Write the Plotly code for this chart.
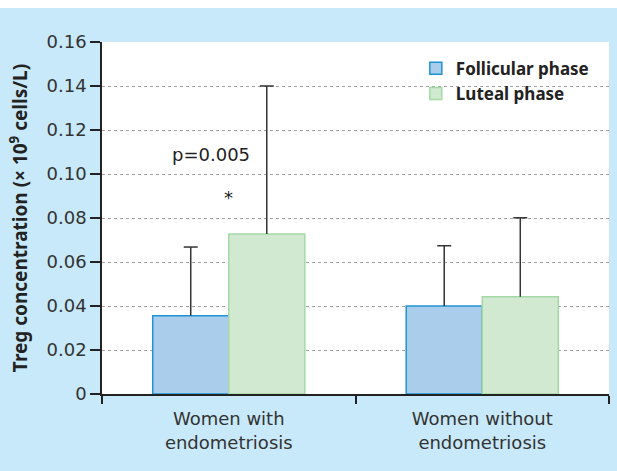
import plotly.graph_objects as go

categories = ["Women with<br>endometriosis", "Women without<br>endometriosis"]
follicular = [0.0356, 0.0400]
follicular_err = [0.0312, 0.0274]
luteal = [0.0727, 0.0442]
luteal_err = [0.0673, 0.0359]
yticks = [0, 0.02, 0.04, 0.06, 0.08, 0.10, 0.12, 0.14, 0.16]
yticklabels = ["0", "0.02", "0.04", "0.06", "0.08", "0.10", "0.12", "0.14", "0.16"]

FONT = "DejaVu Sans"
BOLD = "Noto Sans"
ERR = "#333333"
fig = go.Figure()
series = [
    ("Follicular phase", follicular, follicular_err, "#abcdec", "#1f93d3", "f"),
    ("Luteal phase", luteal, luteal_err, "#d1e9d1", "#a3d9a5", "l"),
]
for name, vals, errs, fill, edge, grp in series:
    fig.add_trace(go.Bar(
        name=name, x=categories, y=vals, offsetgroup=grp,
        marker=dict(color=fill, line=dict(color=edge, width=1.5)),
        error_y=dict(type="data", array=errs, arrayminus=[0] * len(errs), symmetric=False,
                     color=ERR, thickness=1.5, width=0),
    ))
for name, vals, errs, fill, edge, grp in series:
    fig.add_trace(go.Scatter(
        x=categories, y=[v + e for v, e in zip(vals, errs)], offsetgroup=grp,
        mode="markers", showlegend=False, hoverinfo="skip",
        marker=dict(symbol="line-ew", size=10, line=dict(color=ERR, width=1.5)),
    ))

fig.add_annotation(x=0, xshift=-18, y=0.109, text="p=0.005", showarrow=False,
                   font=dict(family=FONT, size=18, color="#222222"))
fig.add_annotation(x=0, y=0.0895, text="*", showarrow=False,
                   font=dict(family=FONT, size=18, color="#222222"))

fig.update_layout(
    width=617, height=463,
    margin=dict(l=102, r=8, t=34, b=77),
    paper_bgcolor="#c8e9f9", plot_bgcolor="white",
    barmode="group", bargap=0.4, bargroupgap=0,
    scattermode="group", scattergap=0.4,
    font=dict(family=FONT, color="#333333"),
    legend=dict(x=0.619, y=0.975, xanchor="left", yanchor="top", bgcolor="rgba(0,0,0,0)",
                font=dict(family=BOLD, size=17, color="#222222", weight="bold"),
                itemwidth=30, tracegroupgap=0),
    showlegend=True,
)
fig.update_xaxes(showline=True, linecolor="#222222", linewidth=1.5,
                 ticks="outside", tickson="boundaries", ticklen=8, tickcolor="#222222", tickwidth=1.5,
                 ticklabelstandoff=8,
                 tickfont=dict(family=FONT, size=18, color="#333333"), showgrid=False)
fig.update_yaxes(range=[0, 0.16], tickvals=yticks, ticktext=yticklabels,
                 showline=True, linecolor="#222222", linewidth=1.5,
                 ticks="outside", ticklen=10, tickcolor="#222222", tickwidth=1.5,
                 tickfont=dict(family=FONT, size=18, color="#333333"),
                 showgrid=True, gridcolor="#a0a0a0", griddash="dot", gridwidth=1,
                 zeroline=False,
                 title=dict(text="Treg concentration (× 10<sup>9</sup> cells/L)",
                            font=dict(family=BOLD, size=19, color="#222222", weight="bold"),
                            standoff=14))

fig.write_html("out.html", post_script="document.body.style.margin='8px 0 0 0';")
